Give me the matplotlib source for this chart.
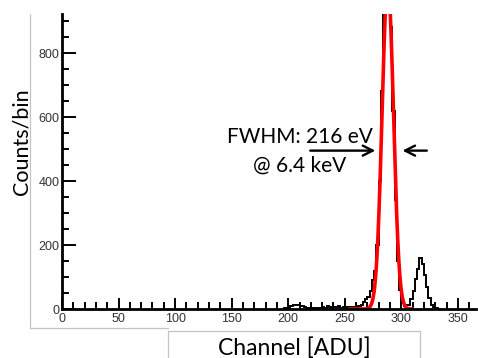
import numpy as np
import matplotlib
matplotlib.use("Agg")
import matplotlib.pyplot as plt
from matplotlib.lines import Line2D
from matplotlib.ticker import MultipleLocator

# histogram (2-channel bins)
bin_start = 196
bin_width = 2
counts = [2, 3, 4, 8, 12, 14, 12, 10, 10, 6, 4,
          3, 2, 3, 2, 4, 3,
          5, 4, 8, 6, 3, 7, 5, 9, 4, 6,
          5, 4, 6, 3, 7, 5,
          8, 12, 22, 30, 38, 55, 90, 120, 200,
          400, 680, 960, 1080, 1040, 880, 620, 340, 150, 60,
          18, 10, 12, 14, 30, 55, 95, 125, 160, 140, 105, 70, 35, 14, 5, 2, 0]

# gaussian fit of the Mn K-alpha line
fit_amp = 1020
fit_mean = 288
fit_sigma = 5.0
fit_range = (253, 311)

x_ticks = [0, 50, 100, 150, 200, 250, 300, 350]
y_ticks = [0, 200, 400, 600, 800]

edges = bin_start + bin_width * np.arange(len(counts) + 1)
xf = np.linspace(fit_range[0], fit_range[1], 400)
yf = fit_amp * np.exp(-0.5 * ((xf - fit_mean) / fit_sigma) ** 2)

W, H = 478, 358
fig = plt.figure(figsize=(W / 100, H / 100), dpi=100)
ax = fig.add_axes([62 / W, 49 / H, 414 / W, 295 / H])

ax.stairs(counts, edges, color="black", lw=1.4)
ax.plot(xf, yf, color="#ff0000", lw=2.6, solid_capstyle="butt")

ax.set_xlim(0, 366)
ax.set_ylim(0, 922)
for s in ["top", "right"]:
    ax.spines[s].set_visible(False)
for s in ["left", "bottom"]:
    ax.spines[s].set_linewidth(2.0)

ax.set_xticks(x_ticks)
ax.set_yticks(y_ticks)
ax.xaxis.set_minor_locator(MultipleLocator(10))
ax.yaxis.set_minor_locator(MultipleLocator(50))
tick_font = ["Liberation Sans Narrow", "Liberation Sans"]
ax.tick_params(which="both", direction="in", width=1.4, colors="black",
               labelcolor="#333333", labelsize=9)
ax.tick_params(axis="y", which="major", length=10, pad=2)
ax.tick_params(axis="y", which="minor", length=5)
ax.tick_params(axis="x", which="major", length=8, pad=3)
ax.tick_params(axis="x", which="minor", length=5)
for lab in ax.get_xticklabels() + ax.get_yticklabels():
    lab.set_fontfamily(tick_font)

# FWHM annotation
ax.text(210, 519, "FWHM: 216 eV", fontsize=15, family="Lato", ha="center", va="baseline")
ax.text(210, 428, "@ 6.4 keV", fontsize=15, family="Lato", ha="center", va="baseline")
ax.annotate("", xy=(279.5, 495), xytext=(217, 495),
            arrowprops=dict(arrowstyle="->", lw=1.7, color="black", mutation_scale=18))
ax.annotate("", xy=(298.5, 495), xytext=(325, 495),
            arrowprops=dict(arrowstyle="->", lw=1.7, color="black", mutation_scale=18))

fig.text(22 / W, 1 - 142 / H, "Counts/bin", fontsize=15.5, family="Lato",
         rotation=90, ha="center", va="center")
fig.text(294 / W, 3 / H, "Channel [ADU]", fontsize=16.5, family="Lato",
         ha="center", va="baseline")

# faint slide frame lines
gray = "#c4c4c4"
def px_line(x0, y0, x1, y1):
    fig.add_artist(Line2D([x0 / W, x1 / W], [1 - y0 / H, 1 - y1 / H],
                          color=gray, lw=0.9, transform=fig.transFigure))
px_line(29.5, 14, 29.5, 328)
px_line(29.5, 328, 168, 328)
px_line(168, 330.5, 420, 330.5)
px_line(168, 330.5, 168, 358)
px_line(420, 330.5, 420, 358)

fig.savefig("out.png", dpi=100)
